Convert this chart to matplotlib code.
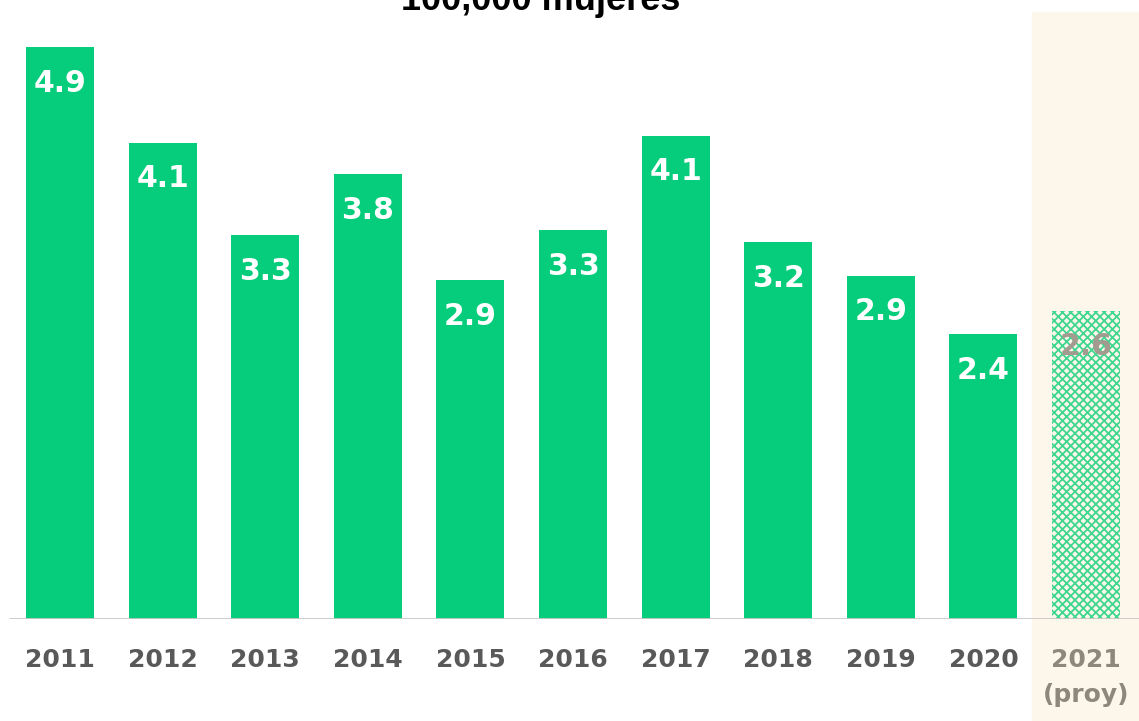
import matplotlib

matplotlib.use("Agg")

import matplotlib.pyplot as plt

years = ["2011", "2012", "2013", "2014", "2015", "2016", "2017", "2018", "2019", "2020", "2021\n(proy)"]
values = [4.9, 4.08, 3.29, 3.81, 2.9, 3.33, 4.14, 3.23, 2.94, 2.44, 2.64]
title = "100,000 mujeres"

GREEN = "#05cd7b"
CREAM = "#fdf6ea"
GREY_TXT = "#595959"
PROJ_TXT = "#a39b90"

plt.rcParams["font.family"] = ["DejaVu Sans"]
plt.rcParams["hatch.linewidth"] = 1.3

fig = plt.figure(figsize=(11.39, 7.21), dpi=100)
ax = fig.add_axes([0, 0.1415, 1, 0.842])
ax.set_xlim(-0.585, 10.516)
ax.set_ylim(0, 5.2)
for s in ax.spines.values():
    s.set_visible(False)

# highlighted projection column, reaching into tick-label area
ax.axvspan(9.474, 10.516, ymin=-0.2, ymax=1.0, color=CREAM, clip_on=False, zorder=0)
ax.hlines(0, -0.5, 10.516, color="#c8c8c8", lw=2, zorder=3)

n = len(values)
xs = list(range(n))
ax.bar(xs[:-1], values[:-1], width=0.663, color=GREEN, zorder=2)
ax.bar(xs[-1], values[-1], width=0.663, facecolor=CREAM, edgecolor="#3fd68f",
       hatch="xxxx", linewidth=0, zorder=2)

for i, v in enumerate(values):
    col = "white" if i < n - 1 else PROJ_TXT
    ax.text(i, v - 0.31, f"{v:.1f}", ha="center", va="center", color=col,
            fontsize=21.5, fontweight="bold", zorder=4)

ax.set_xticks(xs)
ax.set_xticklabels(years, fontsize=18, fontweight="bold", color=GREY_TXT,
                   va="top", linespacing=1.55)
ax.get_xticklabels()[-1].set_color("#8f877c")
ax.tick_params(axis="x", length=0, pad=21)
ax.set_yticks([])

fig.text(0.475, 1 - 10 / 721, title, ha="center", va="baseline", fontsize=26,
         fontweight="bold", color="black", family="Liberation Sans")

fig.savefig("out.png", dpi=100)
